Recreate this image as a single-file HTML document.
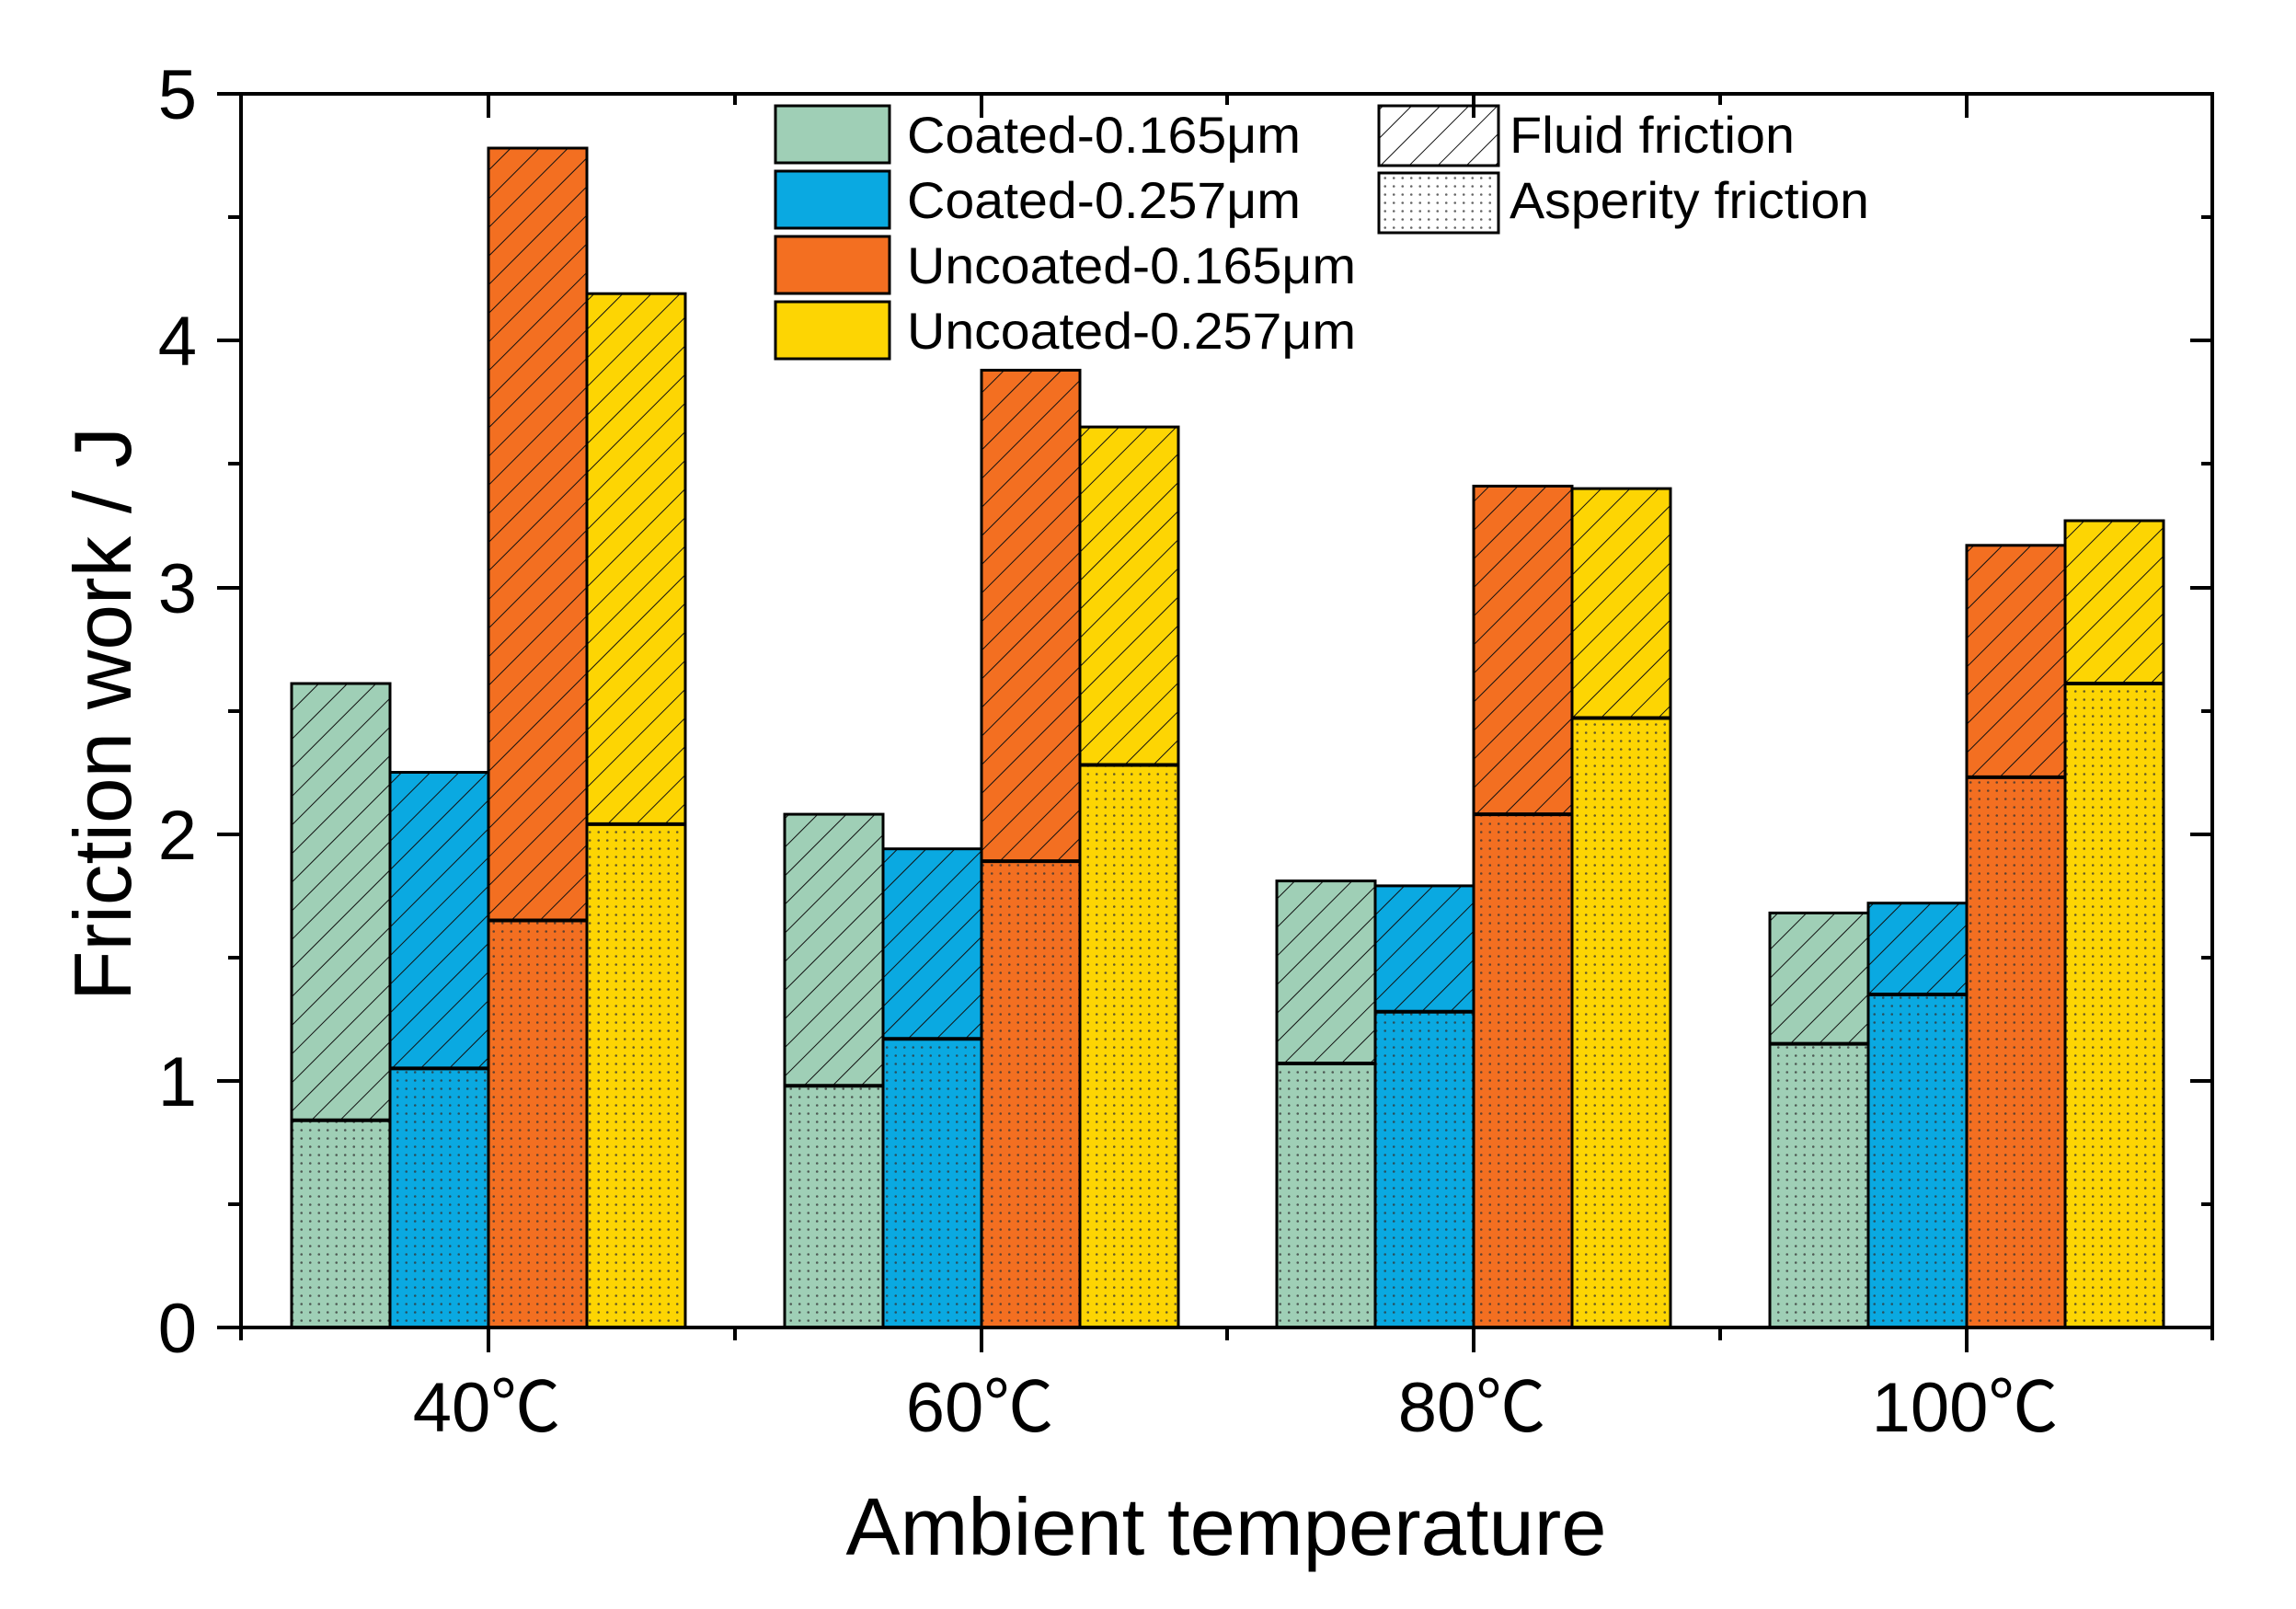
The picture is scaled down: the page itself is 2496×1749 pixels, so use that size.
<!DOCTYPE html>
<html><head><meta charset="utf-8"><style>
html,body{margin:0;padding:0;background:#fff;}
svg{display:block;}
text{font-family:"Liberation Sans","Noto Sans CJK SC",sans-serif;fill:#000;}
</style></head><body>
<svg width="2496" height="1749" viewBox="0 0 2496 1749" xmlns="http://www.w3.org/2000/svg">
<defs>
<pattern id="h" patternUnits="userSpaceOnUse" width="22" height="22" patternTransform="rotate(45)">
<line x1="0" y1="0" x2="0" y2="22" stroke="#111" stroke-width="2"/>
</pattern>
<pattern id="d" patternUnits="userSpaceOnUse" width="9.5" height="9">
<circle cx="4.75" cy="4.5" r="1.3" fill="#333" opacity="0.75"/>
</pattern>
</defs>
<!-- colored fills -->
<g>
<rect x="317" y="743" width="107" height="700" fill="#9fcfb6"/>
<rect x="424" y="839.5" width="107" height="603.5" fill="#0aa9e1"/>
<rect x="531" y="161" width="107" height="1282" fill="#f36f21"/>
<rect x="638" y="319.2" width="107" height="1123.8" fill="#fdd503"/>
<rect x="853" y="885.1" width="107" height="557.9" fill="#9fcfb6"/>
<rect x="960" y="922.7" width="107" height="520.3" fill="#0aa9e1"/>
<rect x="1067" y="402.4" width="107" height="1040.6" fill="#f36f21"/>
<rect x="1174" y="464.1" width="107" height="978.9" fill="#fdd503"/>
<rect x="1388" y="957.6" width="107" height="485.4" fill="#9fcfb6"/>
<rect x="1495" y="962.9" width="107" height="480.1" fill="#0aa9e1"/>
<rect x="1602" y="528.4" width="107" height="914.6" fill="#f36f21"/>
<rect x="1709" y="531.1" width="107" height="911.9" fill="#fdd503"/>
<rect x="1924" y="992.4" width="107" height="450.6" fill="#9fcfb6"/>
<rect x="2031" y="981.7" width="107" height="461.3" fill="#0aa9e1"/>
<rect x="2138" y="592.8" width="107" height="850.2" fill="#f36f21"/>
<rect x="2245" y="566" width="107" height="877" fill="#fdd503"/>
</g>
<!-- hatch (fluid) -->
<g fill="url(#h)">
<rect x="317" y="743" width="107" height="474.7"/>
<rect x="424" y="839.5" width="107" height="321.9"/>
<rect x="531" y="161" width="107" height="839.5"/>
<rect x="638" y="319.2" width="107" height="576.7"/>
<rect x="853" y="885.1" width="107" height="295.1"/>
<rect x="960" y="922.7" width="107" height="206.5"/>
<rect x="1067" y="402.4" width="107" height="533.7"/>
<rect x="1174" y="464.1" width="107" height="367.4"/>
<rect x="1388" y="957.6" width="107" height="198.4"/>
<rect x="1495" y="962.9" width="107" height="136.8"/>
<rect x="1602" y="528.4" width="107" height="356.7"/>
<rect x="1709" y="531.1" width="107" height="249.4"/>
<rect x="1924" y="992.4" width="107" height="142.2"/>
<rect x="2031" y="981.7" width="107" height="99.3"/>
<rect x="2138" y="592.8" width="107" height="252.1"/>
<rect x="2245" y="566" width="107" height="177"/>
</g>
<!-- dots (asperity) -->
<g fill="url(#d)">
<rect x="317" y="1217.7" width="107" height="225.3"/>
<rect x="424" y="1161.4" width="107" height="281.6"/>
<rect x="531" y="1000.5" width="107" height="442.5"/>
<rect x="638" y="895.9" width="107" height="547.1"/>
<rect x="853" y="1180.2" width="107" height="262.8"/>
<rect x="960" y="1129.2" width="107" height="313.8"/>
<rect x="1067" y="936.1" width="107" height="506.9"/>
<rect x="1174" y="831.5" width="107" height="611.5"/>
<rect x="1388" y="1156" width="107" height="287"/>
<rect x="1495" y="1099.7" width="107" height="343.3"/>
<rect x="1602" y="885.1" width="107" height="557.9"/>
<rect x="1709" y="780.5" width="107" height="662.5"/>
<rect x="1924" y="1134.6" width="107" height="308.4"/>
<rect x="2031" y="1081" width="107" height="362"/>
<rect x="2138" y="844.9" width="107" height="598.1"/>
<rect x="2245" y="743" width="107" height="700"/>
</g>
<!-- outlines -->
<g fill="none" stroke="#000" stroke-width="3">
<rect x="317" y="743" width="107" height="700"/>
<rect x="424" y="839.5" width="107" height="603.5"/>
<rect x="531" y="161" width="107" height="1282"/>
<rect x="638" y="319.2" width="107" height="1123.8"/>
<rect x="853" y="885.1" width="107" height="557.9"/>
<rect x="960" y="922.7" width="107" height="520.3"/>
<rect x="1067" y="402.4" width="107" height="1040.6"/>
<rect x="1174" y="464.1" width="107" height="978.9"/>
<rect x="1388" y="957.6" width="107" height="485.4"/>
<rect x="1495" y="962.9" width="107" height="480.1"/>
<rect x="1602" y="528.4" width="107" height="914.6"/>
<rect x="1709" y="531.1" width="107" height="911.9"/>
<rect x="1924" y="992.4" width="107" height="450.6"/>
<rect x="2031" y="981.7" width="107" height="461.3"/>
<rect x="2138" y="592.8" width="107" height="850.2"/>
<rect x="2245" y="566" width="107" height="877"/>
</g>
<g stroke="#000" stroke-width="4">
<path d="M317 1217.7h107 M424 1161.4h107 M531 1000.5h107 M638 895.9h107 M853 1180.2h107 M960 1129.2h107 M1067 936.1h107 M1174 831.5h107 M1388 1156h107 M1495 1099.7h107 M1602 885.1h107 M1709 780.5h107 M1924 1134.6h107 M2031 1081h107 M2138 844.9h107 M2245 743h107"/>
</g>
<g stroke="#000" stroke-width="4" fill="none">
<rect x="262" y="102" width="2143" height="1341"/>
<path d="M236 102H262 M236 370H262 M236 639H262 M236 907H262 M236 1175H262 M236 1443H262"/>
<path d="M248 236H262 M248 504H262 M248 773H262 M248 1041H262 M248 1309H262"/>
<path d="M2405 370H2381 M2405 639H2381 M2405 907H2381 M2405 1175H2381"/>
<path d="M2405 236H2393 M2405 504H2393 M2405 773H2393 M2405 1041H2393 M2405 1309H2393"/>
<path d="M531 1443V1470 M1067 1443V1470 M1602 1443V1470 M2138 1443V1470"/>
<path d="M262 1443V1457 M799 1443V1457 M1334 1443V1457 M1870 1443V1457 M2405 1443V1457"/>
<path d="M531 102V128 M1067 102V128 M1602 102V128 M2138 102V128"/>
<path d="M799 102V114 M1334 102V114 M1870 102V114"/>
</g>
<g font-size="76" text-anchor="end">
<text x="214" y="129">5</text><text x="214" y="397">4</text><text x="214" y="666">3</text>
<text x="214" y="934">2</text><text x="214" y="1202">1</text><text x="214" y="1470">0</text>
</g>
<g font-size="76" text-anchor="middle">
<text x="529" y="1556">40℃</text><text x="1065" y="1556">60℃</text>
<text x="1600" y="1556">80℃</text><text x="2136" y="1556">100℃</text>
</g>
<text x="1333" y="1690" font-size="88" text-anchor="middle" textLength="827" lengthAdjust="spacingAndGlyphs">Ambient temperature</text>
<text transform="translate(142,776) rotate(-90)" font-size="88" text-anchor="middle" textLength="624" lengthAdjust="spacingAndGlyphs">Friction work / J</text>
<g stroke="#000" stroke-width="3">
<rect x="843" y="115" width="124" height="62" fill="#9fcfb6"/>
<rect x="843" y="186" width="124" height="62" fill="#0aa9e1"/>
<rect x="843" y="257" width="124" height="62" fill="#f36f21"/>
<rect x="843" y="328" width="124" height="62" fill="#fdd503"/>
<rect x="1499" y="115" width="130" height="65" fill="url(#h)"/>
<rect x="1499" y="188" width="130" height="65" fill="url(#d)"/>
</g>
<g font-size="56">
<text x="986" y="166" textLength="428" lengthAdjust="spacingAndGlyphs">Coated-0.165μm</text>
<text x="986" y="237" textLength="428" lengthAdjust="spacingAndGlyphs">Coated-0.257μm</text>
<text x="986" y="308" textLength="488" lengthAdjust="spacingAndGlyphs">Uncoated-0.165μm</text>
<text x="986" y="379" textLength="488" lengthAdjust="spacingAndGlyphs">Uncoated-0.257μm</text>
<text x="1641" y="166" textLength="310" lengthAdjust="spacingAndGlyphs">Fluid friction</text>
<text x="1641" y="237" textLength="391" lengthAdjust="spacingAndGlyphs">Asperity friction</text>
</g>
</svg>
</body></html>
